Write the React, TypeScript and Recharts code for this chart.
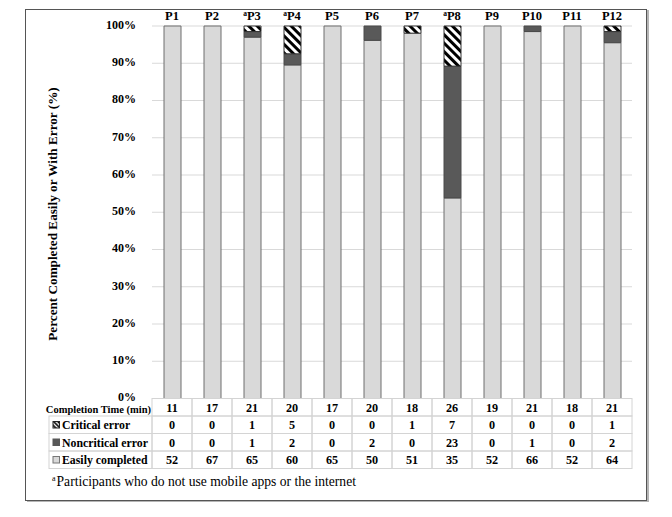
import React from 'react';
import { BarChart, Bar, XAxis, YAxis, CartesianGrid } from 'recharts';

const participants = ['P1', 'P2', 'P3', 'P4', 'P5', 'P6', 'P7', 'P8', 'P9', 'P10', 'P11', 'P12'];
const nonUsers = [false, false, true, true, false, false, false, true, false, false, false, false];
const completionTimes = [11, 17, 21, 20, 17, 20, 18, 26, 19, 21, 18, 21];
const criticalErrors = [0, 0, 1, 5, 0, 0, 1, 7, 0, 0, 0, 1];
const noncriticalErrors = [0, 0, 1, 2, 0, 2, 0, 23, 0, 1, 0, 2];
const easilyCompleted = [52, 67, 65, 60, 65, 50, 51, 35, 52, 66, 52, 64];
const yTicks = [0, 0.1, 0.2, 0.3, 0.4, 0.5, 0.6, 0.7, 0.8, 0.9, 1];
const timeLabel = 'Completion Time (min)';
const rowLabels = ['Critical error', 'Noncritical error', 'Easily completed'];
const yTitle = 'Percent Completed Easily or With Error (%)';
const footnote = 'Participants who do not use mobile apps or the internet';

const data = participants.map((p, i) => ({
  name: p,
  marked: nonUsers[i],
  time: completionTimes[i],
  critical: criticalErrors[i],
  noncritical: noncriticalErrors[i],
  easy: easilyCompleted[i],
}));

const FONT = '"Liberation Serif", "Times New Roman", serif';
const W = 672;
const H = 517;
const PLOT_LEFT = 152;
const PLOT_RIGHT = 632;
const PLOT_TOP = 26;
const PLOT_BOTTOM = 398.5;
const BAND = (PLOT_RIGHT - PLOT_LEFT) / participants.length;
const ROW_H = 17.5;
const LABEL_LEFT = 49;
const BORDER = '#d4d4d4';
const LIGHT = '#d9d9d9';
const DARK = '#595959';

const TopTick = (props: any) => {
  const { x, y, payload, index } = props;
  const d = data[index];
  return (
    <text x={x} y={y - 6} textAnchor="middle" fontFamily={FONT} fontWeight="bold" fontSize={12.5} fill="#000">
      {d && d.marked ? (
        <tspan fontSize={7.5} dy={-4}>a</tspan>
      ) : null}
      <tspan dy={d && d.marked ? 4 : 0}>{payload.value}</tspan>
    </text>
  );
};

const Icon = ({ kind, x, y }: { kind: number; x: number; y: number }) => {
  const s = 6.5;
  if (kind === 0)
    return <rect x={x} y={y - s / 2} width={s} height={s} fill="url(#critStripesSmall)" stroke="#222" strokeWidth={1} />;
  if (kind === 1) return <rect x={x} y={y - s / 2} width={s} height={s} fill={DARK} stroke={DARK} strokeWidth={1} />;
  return <rect x={x} y={y - s / 2} width={s} height={s} fill={LIGHT} stroke="#777" strokeWidth={1} />;
};

const TableTick = (props: any) => {
  const { x, y, index } = props;
  const d = data[index];
  if (!d) return null;
  const values = [d.time, d.critical, d.noncritical, d.easy];
  return (
    <g>
      {values.map((v, r) => (
        <g key={r}>
          <rect x={x - BAND / 2} y={y + r * ROW_H} width={BAND} height={ROW_H} fill="none" stroke={BORDER} strokeWidth={1} />
          <text
            x={x}
            y={y + r * ROW_H + ROW_H / 2 + 4.5}
            textAnchor="middle"
            fontFamily={FONT}
            fontWeight="bold"
            fontSize={12.2}
            fill="#000"
          >
            {v}
          </text>
        </g>
      ))}
      {index === 0 ? (
        <g>
          <text
            x={PLOT_LEFT - 1}
            y={y + ROW_H / 2 + 5.5}
            textAnchor="end"
            fontFamily={FONT}
            fontWeight="bold"
            fontSize={10.5}
            fill="#000"
          >
            {timeLabel}
          </text>
          {rowLabels.map((lab, r) => {
            const top = y + (r + 1) * ROW_H;
            return (
              <g key={lab}>
                <rect x={LABEL_LEFT} y={top} width={PLOT_LEFT - LABEL_LEFT} height={ROW_H} fill="none" stroke={BORDER} strokeWidth={1} />
                <Icon kind={r} x={53} y={top + ROW_H / 2} />
                <text x={62} y={top + ROW_H / 2 + 4.5} fontFamily={FONT} fontWeight="bold" fontSize={11.8} fill="#000">
                  {lab}
                </text>
              </g>
            );
          })}
          <text x={52} y={y + 4 * ROW_H + 17} fontFamily={FONT} fontSize={13.6} fill="#000">
            <tspan fontSize={8} dy={-5}>a</tspan>
            <tspan dy={5} dx={1}>{footnote}</tspan>
          </text>
        </g>
      ) : null}
    </g>
  );
};

const TITLE_Y = 214;
const YTitle = () => (
  <text
    x={52}
    y={TITLE_Y}
    transform={`rotate(-90, 52, ${TITLE_Y})`}
    textAnchor="middle"
    dominantBaseline="central"
    fontFamily={FONT}
    fontWeight="bold"
    fontSize={13.2}
    fill="#000"
  >
    {yTitle}
  </text>
);

export default function App() {
  return (
    <div style={{ position: 'absolute', left: 0, top: 0, width: W, height: H, background: '#fff' }}>
      <div
        style={{
          position: 'absolute',
          left: 25,
          top: 9,
          width: 620,
          height: 490,
          border: '1px solid #555',
          boxShadow: '2px 1px 0 #b5b5b5',
        }}
      />
      <div style={{ position: 'absolute', left: 0, top: 0 }}>
        <BarChart
          width={W}
          height={H}
          data={data}
          stackOffset="expand"
          barSize={17}
          margin={{ top: 0, right: W - PLOT_RIGHT, bottom: 0, left: 0 }}
          style={{ fontFamily: FONT }}
        >
          <defs>
            <pattern id="critStripes" patternUnits="userSpaceOnUse" width={6} height={6} patternTransform="rotate(-45)">
              <rect x={0} y={0} width={6} height={6} fill="#fff" />
              <rect x={0} y={0} width={3} height={6} fill="#000" />
            </pattern>
            <pattern id="critStripesSmall" patternUnits="userSpaceOnUse" width={3} height={3} patternTransform="rotate(-45)">
              <rect x={0} y={0} width={3} height={3} fill="#fff" />
              <rect x={0} y={0} width={1.6} height={3} fill="#000" />
            </pattern>
          </defs>
          <CartesianGrid vertical={false} stroke="#d9d9d9" />
          <XAxis
            xAxisId="top"
            dataKey="name"
            orientation="top"
            height={PLOT_TOP}
            axisLine={false}
            tickLine={false}
            tickSize={0}
            tickMargin={0}
            interval={0}
            tick={<TopTick />}
          />
          <XAxis
            xAxisId="table"
            dataKey="name"
            orientation="bottom"
            height={H - PLOT_BOTTOM}
            axisLine={false}
            tickLine={false}
            tickSize={0}
            tickMargin={0}
            interval={0}
            tick={<TableTick />}
          />
          <YAxis
            width={PLOT_LEFT}
            domain={[0, 1]}
            ticks={yTicks}
            axisLine={false}
            tickLine={false}
            tickMargin={10}
            tick={{ fontFamily: FONT, fontWeight: 'bold', fontSize: 12, fill: '#000', dy: -1.5 }}
            tickFormatter={(v: number) => `${Math.round(v * 100)}%`}
            label={<YTitle />}
          />
          <Bar xAxisId="table" dataKey="easy" stackId="s" fill={LIGHT} stroke="#6e6e6e" strokeWidth={1} isAnimationActive={false} />
          <Bar xAxisId="table" dataKey="noncritical" stackId="s" fill={DARK} stroke="#4a4a4a" strokeWidth={1} isAnimationActive={false} />
          <Bar xAxisId="table" dataKey="critical" stackId="s" fill="url(#critStripes)" stroke="#333" strokeWidth={1} isAnimationActive={false} />
        </BarChart>
      </div>
    </div>
  );
}
